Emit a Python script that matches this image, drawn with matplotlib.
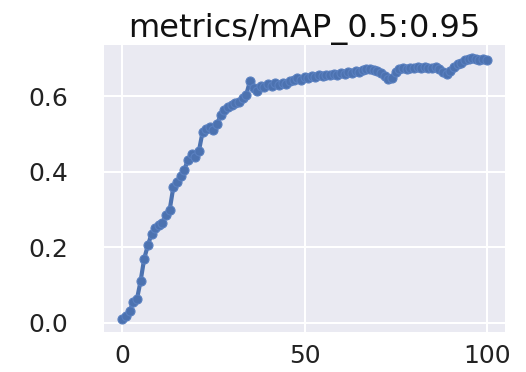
import numpy as np
import matplotlib
matplotlib.use('Agg')
import matplotlib.pyplot as plt

# darkgrid-like look
plt.rcParams['font.family'] = 'DejaVu Sans'
plt.rcParams['axes.facecolor'] = '#EAEAF2'
plt.rcParams['axes.edgecolor'] = 'white'
plt.rcParams['grid.color'] = 'white'
plt.rcParams['axes.grid'] = True

TITLE = 'metrics/mAP_0.5:0.95'
LINE_COLOR = '#4C72B0'

epochs = list(range(101))
map_50_95 = [
    0.010, 0.018, 0.030, 0.055, 0.062, 0.110, 0.170, 0.205, 0.235, 0.250,
    0.258, 0.265, 0.285, 0.300, 0.360, 0.372, 0.390, 0.405, 0.432, 0.447,
    0.440, 0.455, 0.505, 0.515, 0.520, 0.512, 0.528, 0.550, 0.565, 0.572,
    0.578, 0.582, 0.585, 0.595, 0.605, 0.640, 0.622, 0.615, 0.628, 0.625,
    0.632, 0.628, 0.635, 0.630, 0.636, 0.632, 0.640, 0.645, 0.648, 0.645,
    0.652, 0.650, 0.655, 0.652, 0.656, 0.655, 0.658, 0.656, 0.660, 0.658,
    0.662, 0.660, 0.665, 0.663, 0.667, 0.665, 0.670, 0.672, 0.674, 0.670,
    0.668, 0.662, 0.655, 0.647, 0.650, 0.665, 0.672, 0.675, 0.673, 0.676,
    0.675, 0.677, 0.675, 0.678, 0.676, 0.675, 0.677, 0.672, 0.665, 0.660,
    0.668, 0.678, 0.685, 0.690, 0.696, 0.700, 0.702, 0.700, 0.698, 0.700,
    0.696,
]
xticks = [0, 50, 100]
yticks = [0.0, 0.2, 0.4, 0.6]

fig = plt.figure(figsize=(5.26, 3.72), dpi=100)
ax = fig.add_axes([0.198, 0.108, 0.762, 0.771])

ax.plot(epochs, map_50_95, color=LINE_COLOR, marker='o', markersize=6.5,
        linewidth=3, markeredgecolor='#5A80C0', markeredgewidth=0.8)

ax.set_xticks(xticks)
ax.set_yticks(yticks)
ax.set_yticklabels([f'{v:.1f}' for v in yticks])
ax.grid(True, color='white', linewidth=1.5)
ax.set_axisbelow(True)
for s in ax.spines.values():
    s.set_visible(False)

ax.tick_params(axis='both', length=0, labelsize=18, colors='#222222')
ax.tick_params(axis='x', pad=9)
ax.tick_params(axis='y', pad=26)

ax.set_title(TITLE, fontsize=23, pad=5, color='#111111')

plt.savefig('out.png', dpi=100, facecolor='white')
